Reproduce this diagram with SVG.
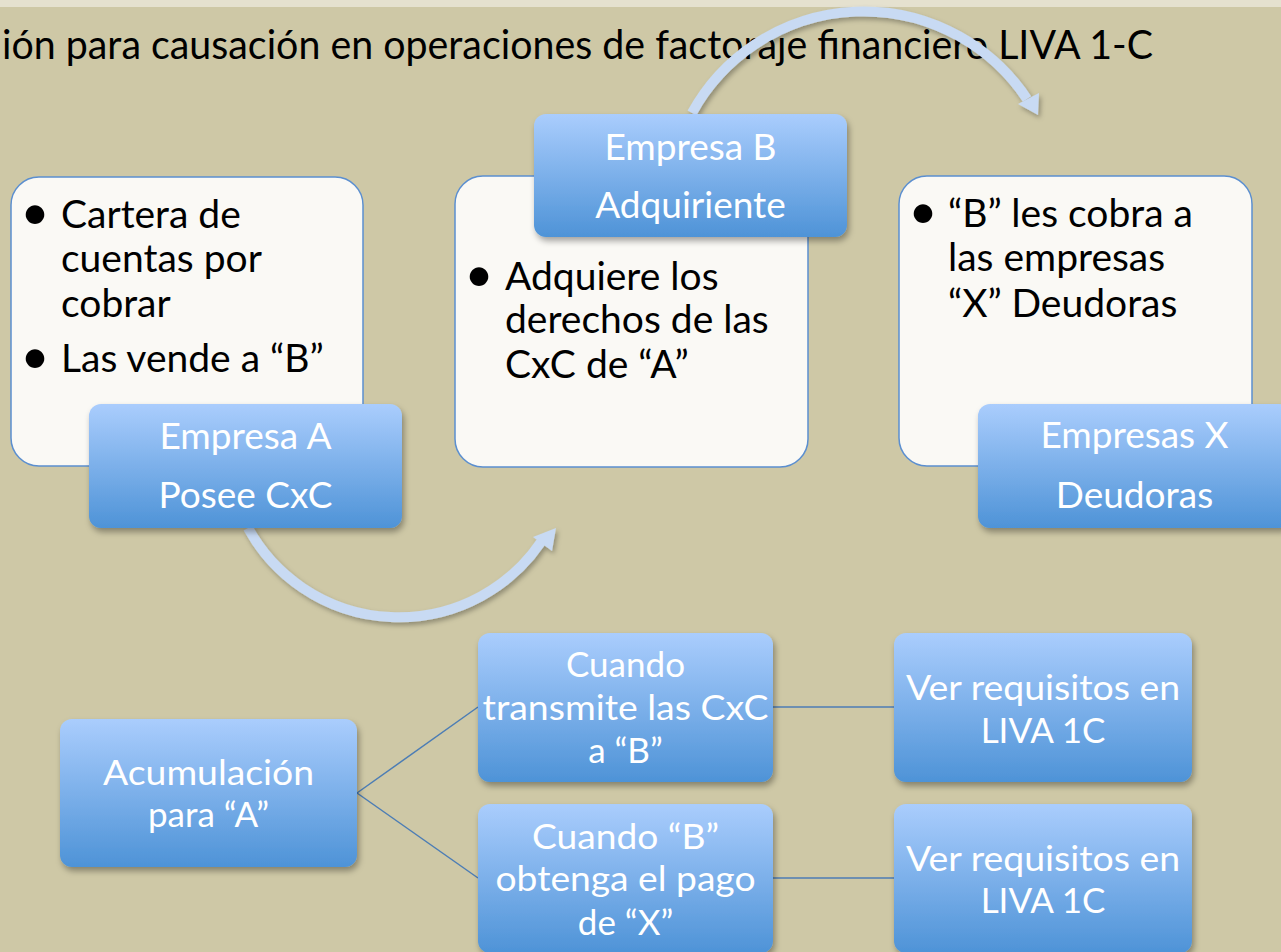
<svg xmlns="http://www.w3.org/2000/svg" width="1281" height="952" viewBox="0 0 1281 952">
<defs>
<linearGradient id="blueGrad" x1="0" y1="0" x2="0" y2="1">
<stop offset="0" stop-color="#aacdfd"/>
<stop offset="1" stop-color="#4e93d7"/>
</linearGradient>
<filter id="shadow" x="-10%" y="-10%" width="130%" height="140%">
<feDropShadow dx="2" dy="4" stdDeviation="3" flood-color="#000" flood-opacity="0.35"/>
</filter>
<filter id="ashadow" x="-10%" y="-10%" width="130%" height="140%">
<feDropShadow dx="2" dy="3" stdDeviation="2.5" flood-color="#000" flood-opacity="0.3"/>
</filter>
</defs>
<style>
.title{font-family:Lato,"Liberation Sans",sans-serif;font-size:40px;fill:#000}
.card{fill:#faf9f5;stroke:#5b8fd0;stroke-width:1.5}
.blue{fill:url(#blueGrad);filter:url(#shadow)}
.btxt{font-family:Lato,"Liberation Sans",sans-serif;font-size:39px;fill:#000}
.bul{font-family:Lato,"Liberation Sans",sans-serif;font-size:50px;fill:#000;text-anchor:middle}
.wtxt{font-family:Lato,"Liberation Sans",sans-serif;font-size:37px;fill:#fff;text-anchor:middle}
.stxt{font-family:Lato,"Liberation Sans",sans-serif;font-size:35px;fill:#fff;text-anchor:middle}
.arc{fill:none;stroke:#c8daf3;stroke-width:10}
.head{fill:#c8daf3}
.line{stroke:#4c7db5;stroke-width:1.5;fill:none}
</style>
<rect x="0" y="0" width="1281" height="952" fill="#cec8a6"/>
<rect x="0" y="0" width="1281" height="7" fill="#e5e1cf"/>
<text class="title" x="2" y="59" textLength="1151" lengthAdjust="spacingAndGlyphs">ión para causación en operaciones de factoraje financiero LIVA 1-C</text>
<g id="connectors">
<g filter="url(#ashadow)">
<path class="arc" d="M 248 528 A 172 172 0 0 0 541 542"/>
<polygon class="head" points="556,528 533,537 552,551"/>
<path class="arc" d="M 692 113 A 196 196 0 0 1 1027 99"/>
<polygon class="head" points="1039,93 1018,104 1038,115"/>
</g>
<line class="line" x1="357" y1="793" x2="478" y2="707"/>
<line class="line" x1="357" y1="793" x2="478" y2="878"/>
<line class="line" x1="773" y1="707" x2="894" y2="707"/>
<line class="line" x1="773" y1="878" x2="894" y2="878"/>
</g>
<g id="card-a">
<rect class="card" x="11" y="177" width="352" height="289" rx="28"/>
<text class="bul" x="35" y="230">•</text>
<text class="btxt" x="61" y="228">Cartera de</text>
<text class="btxt" x="61" y="272">cuentas por</text>
<text class="btxt" x="61" y="317">cobrar</text>
<text class="bul" x="35" y="374">•</text>
<text class="btxt" x="61" y="372">Las vende a “B”</text>
</g>
<g id="label-a">
<rect class="blue" x="89" y="404" width="313" height="124" rx="12"/>
<text class="wtxt" x="245.5" y="449">Empresa A</text>
<text class="wtxt" x="245.5" y="508">Posee CxC</text>
</g>
<g id="card-b">
<rect class="card" x="455" y="176" width="353" height="291" rx="28"/>
<text class="bul" x="479" y="292">•</text>
<text class="btxt" x="505" y="290">Adquiere los</text>
<text class="btxt" x="505" y="333">derechos de las</text>
<text class="btxt" x="505" y="378">CxC de “A”</text>
</g>
<g id="label-b">
<rect class="blue" x="534" y="114" width="313" height="123" rx="12"/>
<text class="wtxt" x="690.5" y="160">Empresa B</text>
<text class="wtxt" x="690.5" y="218">Adquiriente</text>
</g>
<g id="card-x">
<rect class="card" x="899" y="176" width="353" height="290" rx="28"/>
<text class="bul" x="923" y="229">•</text>
<text class="btxt" x="948" y="227">“B” les cobra a</text>
<text class="btxt" x="948" y="271">las empresas</text>
<text class="btxt" x="948" y="317">“X” Deudoras</text>
</g>
<g id="label-x">
<rect class="blue" x="978" y="404" width="313" height="124" rx="12"/>
<text class="wtxt" x="1134.5" y="448">Empresas X</text>
<text class="wtxt" x="1134.5" y="508">Deudoras</text>
</g>
<g id="acumulacion">
<rect class="blue" x="60" y="719" width="297" height="148" rx="12"/>
<text class="stxt" x="208.5" y="785" textLength="211" lengthAdjust="spacingAndGlyphs">Acumulación</text>
<text class="stxt" x="208.5" y="827">para “A”</text>
</g>
<g id="cuando-transmite">
<rect class="blue" x="478" y="633" width="295" height="149" rx="12"/>
<text class="stxt" x="625.5" y="677">Cuando</text>
<text class="stxt" x="625.5" y="720" textLength="286" lengthAdjust="spacingAndGlyphs">transmite las CxC</text>
<text class="stxt" x="625.5" y="763">a “B”</text>
</g>
<g id="cuando-obtenga">
<rect class="blue" x="478" y="804" width="295" height="149" rx="12"/>
<text class="stxt" x="625.5" y="849" textLength="187" lengthAdjust="spacingAndGlyphs">Cuando “B”</text>
<text class="stxt" x="625.5" y="891" textLength="260" lengthAdjust="spacingAndGlyphs">obtenga el pago</text>
<text class="stxt" x="625.5" y="935">de “X”</text>
</g>
<g id="ver-1">
<rect class="blue" x="894" y="633" width="298" height="149" rx="12"/>
<text class="stxt" x="1043" y="700" textLength="274" lengthAdjust="spacingAndGlyphs">Ver requisitos en</text>
<text class="stxt" x="1043" y="743">LIVA 1C</text>
</g>
<g id="ver-2">
<rect class="blue" x="894" y="804" width="298" height="149" rx="12"/>
<text class="stxt" x="1043" y="871" textLength="274" lengthAdjust="spacingAndGlyphs">Ver requisitos en</text>
<text class="stxt" x="1043" y="913">LIVA 1C</text>
</g>
</svg>
